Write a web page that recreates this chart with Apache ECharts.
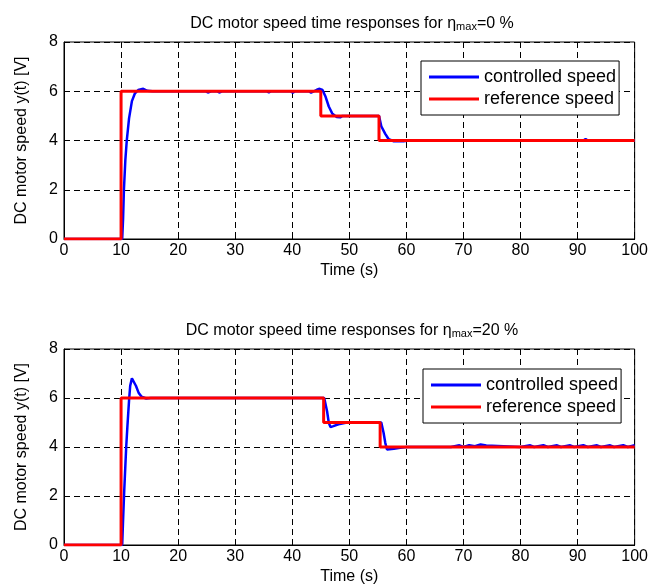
<!DOCTYPE html>
<html>
<head>
<meta charset="utf-8">
<script src="https://cdn.jsdelivr.net/npm/echarts@6/dist/echarts.min.js"></script>
<style>
  html, body { margin: 0; padding: 0; background: #fff; }
  #chart { width: 651px; height: 586px; }
</style>
</head>
<body>
<div id="chart"></div>
<script>
// 数据 (t [s], speed [V])
var xTicks = [0, 10, 20, 30, 40, 50, 60, 70, 80, 90, 100];
var yTicks = [0, 2, 4, 6, 8];
var seriesNames = ['controlled speed', 'reference speed'];

// eta_max = 0 %
var speedEta0 = [
  [0, 0], [10.2, 0], [10.35, 0.8], [10.5, 2.0], [10.75, 3.2], [11.0, 4.0], [11.4, 4.9],
  [11.9, 5.6], [12.4, 5.9], [13.0, 6.05], [13.9, 6.1], [14.6, 6.02], [15.5, 6.0],
  [16.5, 6.0], [16.8, 6.04], [17.2, 6.0], [24.8, 6.0], [25.2, 5.95], [25.8, 6.0],
  [26.8, 6.0], [27.2, 5.95], [27.7, 6.0], [35.5, 6.0], [35.9, 5.95], [36.3, 6.0],
  [39.7, 6.0], [40.1, 5.94], [40.5, 6.0], [42.9, 6.0], [43.3, 5.94], [43.8, 6.0],
  [44.3, 6.06], [44.8, 6.1], [45.3, 6.05], [45.5, 5.99], [45.8, 5.8], [46.4, 5.38],
  [47.0, 5.1], [47.8, 4.95], [48.4, 4.94], [48.8, 5.0], [55.2, 5.0], [55.6, 4.58],
  [56.3, 4.27], [56.9, 4.05], [57.8, 3.97], [59.5, 3.97], [60.5, 4.0], [91.0, 4.0],
  [91.4, 4.06], [91.8, 4.0], [100, 4.0]
];
var refEta0 = [[0, 0], [10, 0], [10, 6], [45, 6], [45, 5], [55.2, 5], [55.2, 4], [100, 4]];

// eta_max = 20 %
var speedEta20 = [
  [0, 0], [10.2, 0], [10.35, 1.0], [10.55, 2.2], [10.9, 4.0], [11.1, 4.8], [11.4, 5.9],
  [11.6, 6.5], [11.9, 6.8], [12.2, 6.72], [12.6, 6.5], [13.1, 6.2], [13.6, 6.05],
  [14.4, 5.98], [15.2, 6.0], [45.6, 6.0], [45.8, 5.93], [46.1, 5.46], [46.4, 4.99],
  [46.7, 4.81], [47.2, 4.85], [48.1, 4.93], [49.6, 5.0], [55.6, 5.0], [56.0, 4.58],
  [56.3, 4.17], [56.6, 3.9], [56.9, 3.87], [57.8, 3.93], [58.9, 3.97], [60, 4.0],
  [66.0, 4.0], [66.2, 4.07], [66.5, 4.0], [67.8, 4.0], [68.0, 4.07], [69.3, 4.07],
  [69.5, 4.0], [70.0, 4.0], [70.2, 4.07], [71.0, 4.07], [71.2, 4.0], [72.0, 4.03],
  [73.0, 4.1], [74.0, 4.06], [74.3, 4.0], [80.0, 4.0], [80.2, 4.07], [81.7, 4.07],
  [81.9, 4.0], [82.4, 4.0], [82.6, 4.07], [84.0, 4.07], [84.2, 4.0], [84.8, 4.0],
  [85.0, 4.07], [86.4, 4.07], [86.6, 4.0], [87.1, 4.0], [87.3, 4.07], [88.7, 4.07],
  [88.9, 4.0], [89.4, 4.0], [89.6, 4.07], [91.0, 4.07], [91.2, 4.0], [91.8, 4.0],
  [92.0, 4.07], [93.4, 4.07], [93.6, 4.0], [94.1, 4.0], [94.3, 4.07], [95.7, 4.07],
  [95.9, 4.0], [96.4, 4.0], [96.6, 4.07], [98.0, 4.07], [98.2, 4.0], [98.8, 4.0],
  [99.0, 4.07], [100, 4.07]
];
var refEta20 = [[0, 0], [10, 0], [10, 6], [45.5, 6], [45.5, 5], [55.4, 5], [55.4, 4], [100, 4]];

var titles = ['DC motor speed time responses for η{sub|max}=0 %', 'DC motor speed time responses for η{sub|max}=20 %'];

var font = 'Liberation Sans, Arial, sans-serif';
var myChart = echarts.init(document.getElementById('chart'));

function xAxisOf(i) {
  return {
    type: 'value', gridIndex: i, min: xTicks[0], max: xTicks[xTicks.length - 1], interval: 10,
    name: 'Time (s)', nameLocation: 'middle', nameGap: 24,
    nameTextStyle: { color: '#000', fontSize: 16, fontFamily: font },
    axisLine: { lineStyle: { color: '#000', width: 1 } },
    axisTick: { inside: true, length: 5, lineStyle: { color: '#000' } },
    axisLabel: { color: '#000', fontSize: 16, fontFamily: font, margin: 4 },
    splitLine: { show: true, lineStyle: { color: '#000', type: [6, 4], width: 1 } }
  };
}
function yAxisOf(i) {
  return {
    type: 'value', gridIndex: i, min: yTicks[0], max: yTicks[yTicks.length - 1], interval: 2,
    name: 'DC motor speed y(t) [V]', nameLocation: 'middle', nameGap: 34,
    nameTextStyle: { color: '#000', fontSize: 16, fontFamily: font },
    axisLine: { lineStyle: { color: '#000', width: 1 } },
    axisTick: { inside: true, length: 5, lineStyle: { color: '#000' } },
    axisLabel: { color: '#000', fontSize: 16, fontFamily: font, margin: 6 },
    splitLine: { show: true, lineStyle: { color: '#000', type: [6, 4], width: 1 } }
  };
}
function legendOf(top, left) {
  return {
    orient: 'vertical', left: left, top: top,
    data: seriesNames, icon: 'rect', itemWidth: 50, itemHeight: 3, itemGap: 4,
    backgroundColor: '#fff', borderColor: '#000', borderWidth: 1, borderRadius: 0,
    padding: [7, 3, 7, 8],
    textStyle: { color: '#000', fontSize: 18, fontFamily: font },
    selectedMode: false
  };
}
function titleOf(text, top) {
  return {
    text: text, left: 347, textAlign: 'center', top: top,
    textStyle: {
      color: '#000', fontSize: 16, fontWeight: 'normal', fontFamily: font,
      rich: { sub: { fontSize: 11, fontFamily: font, color: '#000', verticalAlign: 'bottom', padding: [6, 0, 0, 0] } }
    }
  };
}

myChart.setOption({
  backgroundColor: '#fff',
  animation: false,
  title: [titleOf(titles[0], 10), titleOf(titles[1], 317)],
  legend: [legendOf(61, 421), legendOf(369, 423)],
  grid: [
    { left: 64, top: 42, width: 571, height: 197, show: true, borderColor: '#000', borderWidth: 1, backgroundColor: 'transparent' },
    { left: 64, top: 349, width: 571, height: 197, show: true, borderColor: '#000', borderWidth: 1, backgroundColor: 'transparent' }
  ],
  xAxis: [xAxisOf(0), xAxisOf(1)],
  yAxis: [yAxisOf(0), yAxisOf(1)],
  series: [
    { name: seriesNames[0], type: 'line', xAxisIndex: 0, yAxisIndex: 0, data: speedEta0, symbol: 'none', lineStyle: { color: '#0000ff', width: 2.5 }, itemStyle: { color: '#0000ff' } },
    { name: seriesNames[1], type: 'line', xAxisIndex: 0, yAxisIndex: 0, data: refEta0, symbol: 'none', lineStyle: { color: '#ff0000', width: 3 }, itemStyle: { color: '#ff0000' } },
    { name: seriesNames[0], type: 'line', xAxisIndex: 1, yAxisIndex: 1, data: speedEta20, symbol: 'none', lineStyle: { color: '#0000ff', width: 2.5 }, itemStyle: { color: '#0000ff' } },
    { name: seriesNames[1], type: 'line', xAxisIndex: 1, yAxisIndex: 1, data: refEta20, symbol: 'none', lineStyle: { color: '#ff0000', width: 3 }, itemStyle: { color: '#ff0000' } }
  ]
});
</script>
</body>
</html>
